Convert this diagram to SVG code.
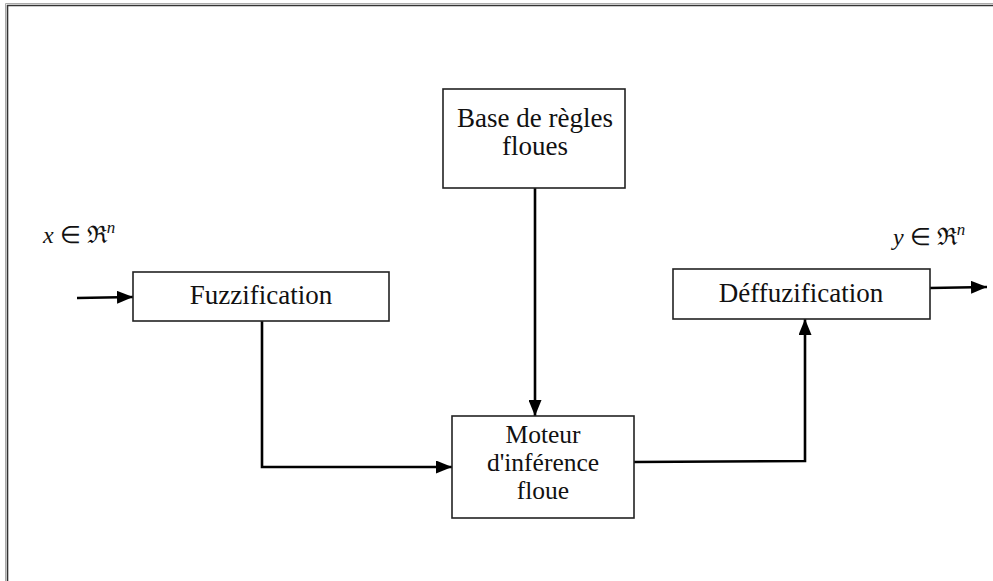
<svg xmlns="http://www.w3.org/2000/svg" width="993" height="581" viewBox="0 0 993 581">
  <defs>
    <marker id="arrow" viewBox="0 0 16 13" refX="16" refY="6.5" markerWidth="16" markerHeight="13" markerUnits="userSpaceOnUse" orient="auto">
      <path d="M0,0 L16,6.5 L0,13 Z" fill="#000"/>
    </marker>
    <style>
      .box { fill: #fff; stroke: #222; stroke-width: 1.6; }
      .lbl { font-family: "Liberation Serif", "Times New Roman", serif; font-size: 27px; fill: #111; text-anchor: middle; }
      .sm { font-size: 25.5px; }
      .math { font-family: "Liberation Serif", "Times New Roman", serif; font-size: 24px; fill: #111; }
      .frak { font-family: "DejaVu Serif", serif; }
      .wire { fill: none; stroke: #000; stroke-width: 2.6; }
    </style>
  </defs>
  <rect width="993" height="581" fill="#fff"/>
  <!-- page frame -->
  <path d="M5.5,581 V3.5 H993" fill="none" stroke="#aaa" stroke-width="1"/>
  <path d="M7.5,581 V5.5 H993" fill="none" stroke="#333" stroke-width="1.6"/>

  <g id="connectors">
    <line class="wire" x1="77" y1="298" x2="133" y2="297" marker-end="url(#arrow)"/>
    <polyline class="wire" points="262,321 262,467 452,467" marker-end="url(#arrow)"/>
    <line class="wire" x1="535" y1="188" x2="535" y2="416" marker-end="url(#arrow)"/>
    <polyline class="wire" points="634,462 805,461 805,319" marker-end="url(#arrow)"/>
    <line class="wire" x1="930" y1="288" x2="987" y2="287" marker-end="url(#arrow)"/>
  </g>

  <g id="fuzzification">
    <rect class="box" x="133" y="272" width="256" height="49"/>
    <text class="lbl" x="261" y="304">Fuzzification</text>
  </g>

  <g id="base-regles">
    <rect class="box" x="443" y="89" width="182" height="99"/>
    <text class="lbl" x="535" y="127">Base de règles</text>
    <text class="lbl" x="535" y="155">floues</text>
  </g>

  <g id="moteur-inference">
    <rect class="box" x="452" y="416" width="182" height="102"/>
    <text class="lbl sm" x="543" y="443">Moteur</text>
    <text class="lbl sm" x="543" y="471">d'inférence</text>
    <text class="lbl sm" x="543" y="499">floue</text>
  </g>

  <g id="deffuzification">
    <rect class="box" x="673" y="269" width="257" height="50"/>
    <text class="lbl" x="801" y="302">Déffuzification</text>
  </g>

  <g id="input-label">
    <text class="math" x="43" y="243"><tspan font-style="italic">x</tspan> ∈ <tspan class="frak">ℜ</tspan><tspan font-style="italic" font-size="17" dy="-10">n</tspan></text>
  </g>
  <g id="output-label">
    <text class="math" x="893" y="245"><tspan font-style="italic">y</tspan> ∈ <tspan class="frak">ℜ</tspan><tspan font-style="italic" font-size="17" dy="-10">n</tspan></text>
  </g>
</svg>
